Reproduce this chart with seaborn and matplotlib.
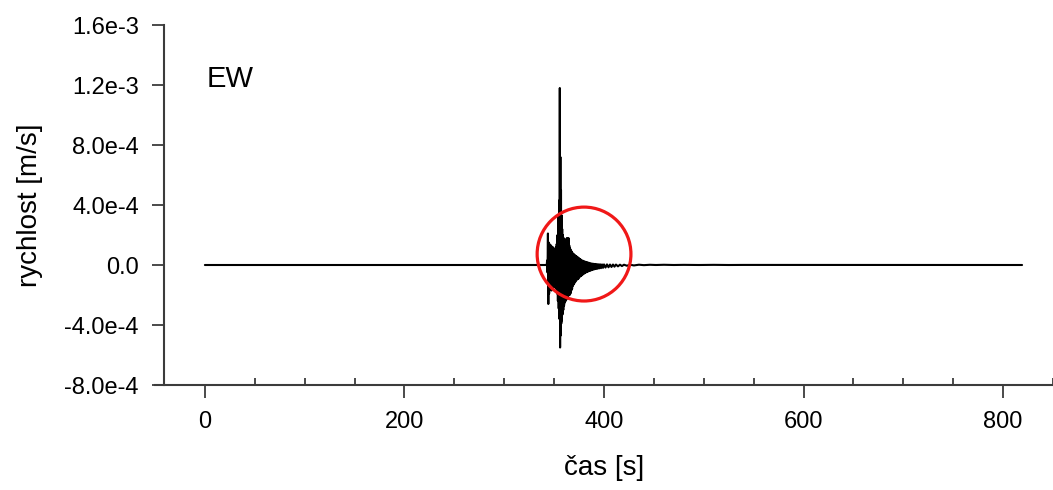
import numpy as np
import pandas as pd
import matplotlib
matplotlib.use("Agg")
import matplotlib.pyplot as plt
from matplotlib.patches import Ellipse
from matplotlib.ticker import FixedLocator
import seaborn as sns

# EW velocity record: time [s] and velocity [1e-4 m/s]
t_s = [
    0.0, 342.6, 343.0, 343.4, 343.8, 344.2, 344.6, 345.0, 345.4, 345.8,
    346.2, 346.6, 347.0, 347.4, 347.8, 348.2, 348.6, 349.0, 349.4, 349.8,
    350.2, 350.6, 351.0, 351.4, 351.8, 352.2, 352.6, 353.0, 353.4, 353.8,
    354.2, 354.6, 355.0, 355.35, 355.7, 356.0, 356.3, 356.6, 356.9, 357.2,
    357.5, 357.8, 358.1, 358.4, 358.8, 359.2, 359.6, 360.0, 360.4, 360.8,
    361.2, 361.6, 362.0, 362.4, 362.8, 363.2, 363.6, 364.0, 364.4, 364.8,
    365.2, 365.6, 366.0, 366.4, 366.8, 367.2, 367.6, 368.0, 368.4, 368.8,
    369.2, 369.6, 370.0, 370.5, 371.0, 371.5, 372.0, 372.5, 373.0, 373.5,
    374.0, 374.5, 375.0, 375.5, 376.0, 376.5, 377.0, 377.5, 378.0, 378.5,
    379.0, 379.5, 380.0, 380.6, 381.2, 381.8, 382.4, 383.0, 383.6, 384.2,
    384.8, 385.4, 386.0, 386.6, 387.2, 387.8, 388.4, 389.0, 389.6, 390.2,
    391.0, 391.8, 392.6, 393.4, 394.2, 395.0, 396.0, 397.0, 398.0, 399.0,
    400.0, 401.5, 403.0, 404.5, 406.0, 407.5, 409.0, 410.5, 412.0, 414.0,
    416.0, 418.0, 420.0, 423.0, 426.0, 430.0, 435.0, 440.0, 446.0, 452.0,
    460.0, 470.0, 480.0, 495.0, 510.0, 525.0, 540.0, 819.0,
]
v_e4 = [
    0.0, 0.0, 0.3, -0.5, 2.1, -2.6, 1.5, -1.9, 1.4, -1.6,
    1.2, -1.3, 1.3, -1.7, 1.1, -1.4, 1.2, -1.2, 0.9, -1.5,
    1.0, -1.3, 1.1, -1.0, 1.2, -1.6, 1.4, -1.9, 2.0, -2.4,
    3.2, -2.9, 4.3, -3.6, 11.8, -5.5, 7.2, -4.7, 5.0, -3.9,
    3.3, -3.7, 2.4, -3.3, 2.0, -3.0, 1.8, -2.7, 1.6, -2.5,
    1.7, -2.4, 1.5, -2.3, 1.8, -2.2, 1.6, -2.1, 1.8, -2.0,
    1.3, -2.0, 1.1, -1.9, 1.0, -1.7, 0.9, -1.6, 0.8, -1.4,
    0.75, -1.3, 0.7, -1.2, 0.65, -1.1, 0.6, -1.0, 0.55, -0.95,
    0.5, -0.9, 0.45, -0.8, 0.4, -0.75, 0.35, -0.7, 0.3, -0.65,
    0.28, -0.6, 0.25, -0.55, 0.22, -0.5, 0.2, -0.47, 0.17, -0.43,
    0.15, -0.4, 0.12, -0.37, 0.1, -0.34, 0.09, -0.31, 0.08, -0.29,
    0.07, -0.27, 0.06, -0.25, 0.05, -0.23, 0.05, -0.21, 0.04, -0.19,
    0.04, -0.17, 0.04, -0.15, 0.03, -0.13, 0.03, -0.11, 0.03, -0.09,
    0.02, -0.07, 0.02, -0.05, 0.02, -0.03, 0.02, -0.01, 0.015, 0.0,
    0.015, 0.0, 0.01, 0.0, 0.01, 0.0, 0.005, 0.0,
]

# Axis ticks
x_major = [0, 200, 400, 600, 800]
x_minor = [50, 100, 150, 250, 300, 350, 450, 500, 550, 650, 700, 750, 850]
y_ticks = [1.6e-3, 1.2e-3, 8.0e-4, 4.0e-4, 0.0, -4.0e-4, -8.0e-4]
y_tick_labels = ["1.6e-3", "1.2e-3", "8.0e-4", "4.0e-4", "0.0", "-4.0e-4", "-8.0e-4"]

# Highlighted region: centre (s, m/s) and half-widths
circle_center = (380.0, 7.3e-5)
circle_half = (47.0, 3.13e-4)

df = pd.DataFrame({"cas": t_s, "rychlost": np.array(v_e4) * 1e-4})

sns.set_style("white")
plt.rcParams["font.family"] = ["Liberation Sans", "DejaVu Sans"]
plt.rcParams["text.color"] = "black"
plt.rcParams["axes.labelcolor"] = "black"
plt.rcParams["xtick.labelcolor"] = "black"
plt.rcParams["ytick.labelcolor"] = "black"

fig = plt.figure(figsize=(10.53, 4.90), dpi=100)
ax = fig.add_axes([155 / 1053, 1 - 385 / 490, 898 / 1053, 360 / 490])

sns.lineplot(data=df, x="cas", y="rychlost", ax=ax, color="black",
             linewidth=1.5, estimator=None, sort=False)

ax.add_patch(Ellipse(circle_center, 2 * circle_half[0], 2 * circle_half[1],
                     fill=False, edgecolor="#f01818", linewidth=2.3, zorder=5))

ax.set_xlim(-50, 850)
ax.set_ylim(-8.0e-4, 1.6e-3)

spine_col = "#3c3c3c"
for side in ("top", "right"):
    ax.spines[side].set_visible(False)
for side in ("left", "bottom"):
    ax.spines[side].set_color(spine_col)
    ax.spines[side].set_linewidth(1.5)
ax.spines["left"].set_position(("data", -41))

ax.xaxis.set_major_locator(FixedLocator(x_major))
ax.xaxis.set_minor_locator(FixedLocator(x_minor))
ax.set_xticklabels([str(v) for v in x_major])
ax.set_yticks(y_ticks)
ax.set_yticklabels(y_tick_labels)

ax.tick_params(axis="x", which="major", direction="out", length=9, width=1.3,
               color=spine_col, labelsize=17, labelcolor="black", pad=10, bottom=True)
ax.tick_params(axis="x", which="minor", direction="in", length=5, width=1.3,
               color=spine_col, bottom=True)
ax.tick_params(axis="y", which="major", direction="out", length=9, width=1.3,
               color=spine_col, labelsize=17, labelcolor="black", pad=9, left=True)

ax.set_xlabel("čas [s]", fontsize=20, color="black")
ax.set_ylabel("rychlost [m/s]", fontsize=20, color="black")
ax.xaxis.set_label_coords(0.5, -0.231)
ax.xaxis.label.set_va("center")
ax.yaxis.set_label_coords(-0.139, 0.5)
ax.yaxis.label.set_va("center")

ax.text(0.058, 0.828, "EW", transform=ax.transAxes, fontsize=21,
        color="black", ha="left", va="baseline")

fig.savefig("out.png", dpi=100)
